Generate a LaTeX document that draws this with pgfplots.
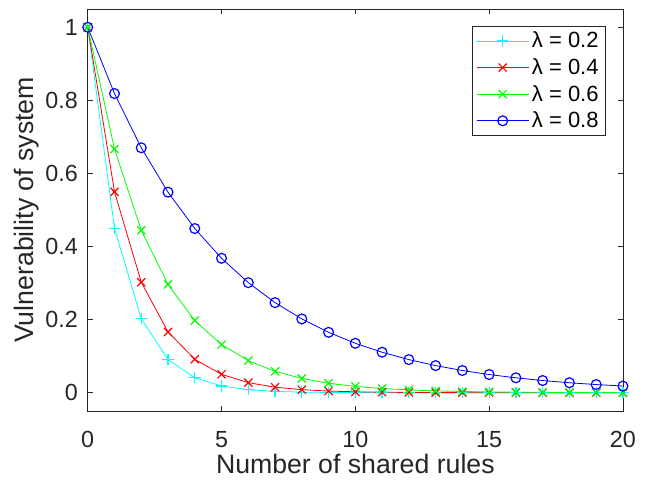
\documentclass[border=0pt]{standalone}
\usepackage{pgfplots}
\pgfplotsset{compat=1.18}
\usepackage{pgfplotstable}
\usepackage{fontspec}
\setmainfont{Liberation Sans}
\definecolor{axgray}{rgb}{0.15,0.15,0.15}
\definecolor{mcyan}{rgb}{0,1,1}
\definecolor{mred}{rgb}{1,0,0}
\definecolor{mgreen}{rgb}{0,1,0}
\definecolor{mblue}{rgb}{0,0,1}
\pgfplotstableread{
x    a      b      c      d
0    1      1      1      1
1    0.45   0.55   0.6667 0.8187
2    0.2025 0.3025 0.4444 0.6703
3    0.0911 0.1664 0.2963 0.5488
4    0.0410 0.0915 0.1975 0.4493
5    0.0185 0.0503 0.1317 0.3679
6    0.0083 0.0277 0.0878 0.3012
7    0.0037 0.0152 0.0585 0.2466
8    0.0017 0.0084 0.0390 0.2019
9    0.0008 0.0046 0.0260 0.1653
10   0.0003 0.0025 0.0173 0.1353
11   0.0002 0.0014 0.0116 0.1108
12   0.0001 0.0008 0.0077 0.0907
13   0.0000 0.0004 0.0051 0.0743
14   0.0000 0.0002 0.0034 0.0608
15   0.0000 0.0001 0.0023 0.0498
16   0.0000 0.0001 0.0015 0.0408
17   0.0000 0.0000 0.0010 0.0334
18   0.0000 0.0000 0.0007 0.0273
19   0.0000 0.0000 0.0005 0.0224
20   0.0000 0.0000 0.0003 0.0183
}\datatab
\begin{document}
\begin{tikzpicture}
\useasboundingbox (0,0) rectangle (486pt,360pt);
\begin{axis}[
  at={(65.8pt,51.75pt)}, anchor=south west,
  scale only axis, width=401.4pt, height=301.5pt,
  xmin=0, xmax=20, ymin=-0.05, ymax=1.05,
  xtick={0,5,10,15,20}, ytick={0,0.2,0.4,0.6,0.8,1},
  tick align=inside, major tick length=4pt,
  axis line style={axgray, line width=0.5pt},
  every tick/.style={axgray, line width=0.5pt},
  /pgf/number format/assume math mode=true,
  tick label style={font=\fontsize{17.5}{21}\selectfont, text=axgray},
  xticklabel style={anchor=base, yshift=-27.5pt, inner sep=0pt},
  yticklabel style={anchor=east, inner sep=0pt, xshift=-7.3pt},
  label style={font=\fontsize{20}{24}\selectfont, text=axgray},
  xlabel={Number of shared rules},
  ylabel={Vulnerability of system},
  xlabel style={at={(axis description cs:0.5,-0.156)}, anchor=base, inner sep=0pt},
  ylabel style={at={(axis description cs:-0.1004,0.5)}, anchor=base},
  legend style={at={(1,1)}, anchor=north east, xshift=-13pt, yshift=-12.5pt,
    draw=axgray, line width=0.5pt, font=\fontsize{16.5}{19.8}\selectfont,
    inner xsep=3pt, inner ysep=2.5pt, row sep=2.5pt},
  legend cell align=left,
  legend image code/.code={\draw[mark repeat=2, mark phase=2, #1] plot coordinates {(0cm,0cm) (0.69cm,0cm) (1.38cm,0cm)};},
  every axis plot/.append style={line width=0.6pt, mark size=4.3pt, mark options={solid, line width=0.9pt}},
]
\addplot[mcyan, mark=+] table[x=x, y=a] {\datatab};
\addlegendentry{λ = 0.2}
\addplot[mred, mark=x] table[x=x, y=b] {\datatab};
\addlegendentry{λ = 0.4}
\addplot[mgreen, mark=x] table[x=x, y=c] {\datatab};
\addlegendentry{λ = 0.6}
\addplot[mblue, mark=o, mark size=3.7pt] table[x=x, y=d] {\datatab};
\addlegendentry{λ = 0.8}
\end{axis}
\end{tikzpicture}
\end{document}
